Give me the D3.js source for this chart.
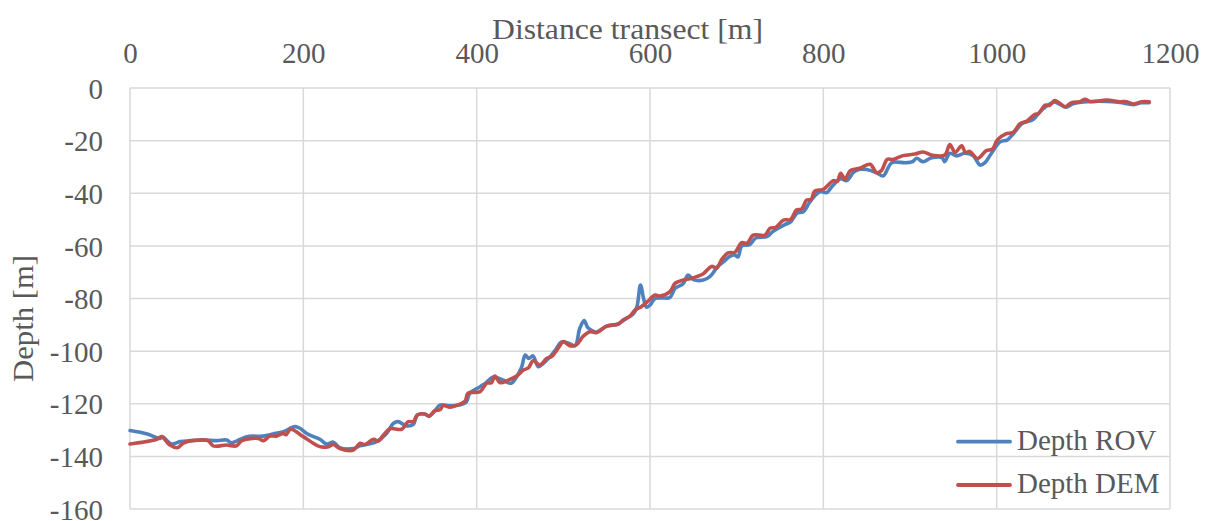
<!DOCTYPE html>
<html>
<head>
<meta charset="utf-8">
<script src="https://cdn.jsdelivr.net/npm/d3@7"></script>
<style>
  html, body { margin: 0; padding: 0; background: #ffffff; }
  svg { display: block; }
  text { font-family: "Liberation Serif", "Times New Roman", serif; fill: #595959; }
</style>
</head>
<body>
<svg id="chart" width="1214" height="521"></svg>
<script>
// Transect profile: distance along the transect [m] and depth [m]
const rovDist = [0, 20, 34.6, 37, 48, 57.7, 70, 84.6, 100, 111.5, 117, 134.6, 153.8, 165, 176.9, 190.4, 196, 203.8, 219, 227, 234.6, 242, 257.7, 265.4, 273, 284.6, 296, 303.8, 309.6, 319, 327, 331.5, 340, 345, 352, 357.7, 369, 380, 388, 392, 404, 411, 419, 430, 440, 446, 452, 456, 460, 465, 471, 477, 485, 491, 498, 506, 513.5, 519, 524, 528, 532, 538, 550, 563, 573, 581, 585, 589, 593, 596, 600, 606, 615, 623, 629, 638, 644, 650, 661.5, 669, 678.5, 685, 692, 698, 701.5, 706, 715, 722, 735, 742, 755, 762, 770, 777, 784, 790, 796, 804, 811, 820, 827, 835, 842, 850, 861.5, 869, 879, 895, 903, 907.7, 915, 925, 937, 940, 946, 954, 963, 973, 981, 986.5, 994, 1004, 1012, 1019, 1029, 1042, 1050, 1058, 1066, 1072, 1080, 1088, 1100, 1127, 1142, 1158, 1167, 1176];
const rovDepth = [-130.2, -131.5, -133.2, -132.5, -135.3, -134.4, -134, -133.8, -134, -133.8, -134.8, -132.5, -132.3, -131.5, -130.6, -128.7, -129.3, -131.3, -133.5, -135.3, -134.6, -136.7, -137, -136, -135.5, -134.4, -131.3, -127.5, -126.8, -128.4, -127.8, -124.3, -123.9, -124.7, -122.6, -120.5, -120.8, -120.5, -119.3, -116, -113.5, -112, -109.8, -111, -112.2, -109.8, -106, -101.5, -102.8, -101.8, -105.9, -104.6, -102, -99.5, -96.5, -97, -98, -91.3, -88.4, -91, -92, -92.8, -90.5, -89.7, -87.5, -85.7, -83, -74.9, -80.6, -83.3, -82.5, -80, -79.8, -79.6, -76.1, -74.5, -71.1, -72.8, -73, -71.7, -67.7, -66, -64, -63.5, -64.2, -60, -59.5, -57, -56.5, -54.5, -52, -51, -47.5, -47, -43.5, -41, -39.4, -39.7, -37, -34.5, -35.2, -32, -30.9, -31, -32.2, -33.4, -28.4, -28.4, -28, -26.7, -28, -26.5, -26.5, -28, -24.8, -25.8, -24.8, -25.8, -29.3, -28.4, -24.8, -20.4, -19.8, -17.5, -13.6, -12, -9, -6.8, -5.3, -6, -7.3, -6, -5.3, -5.1, -5.5, -6.3, -5.6, -5.6];

const demDist = [0, 31, 36.5, 46, 54.6, 61.5, 73, 90, 96, 111.5, 123, 129, 148, 154, 161.5, 169, 177, 180, 185.5, 200, 219, 229, 234.6, 242, 257.7, 265.4, 271, 281, 286.5, 292.3, 300, 313.5, 321, 327, 331.5, 340, 345, 352, 357.7, 361.5, 369, 375, 386.5, 390, 404, 411.5, 417, 421, 427, 436.5, 446, 454, 459.6, 465.4, 473, 481, 486.5, 494, 500, 507.7, 515, 523, 530.8, 538, 550, 563.5, 569, 577, 582.7, 590, 597, 605.8, 611.5, 623, 629, 638.5, 646, 654, 661.5, 671, 677, 682.7, 690, 698, 705.8, 712, 719, 732.7, 738.5, 745, 754, 762, 769, 775, 780.8, 786, 790, 800, 811.5, 816, 820, 825, 831, 842, 854, 861.5, 867, 873.8, 880, 892, 905.8, 915, 925, 940, 946, 952, 959.6, 964, 969, 978, 988, 995, 1001, 1010, 1019, 1027, 1035, 1044, 1048, 1056, 1061, 1067, 1072, 1079, 1086.5, 1096, 1102, 1108, 1127, 1142, 1150, 1158, 1167, 1176];
const demDepth = [-135.3, -133.5, -132.5, -135.7, -136.7, -135, -134, -134, -136, -135.7, -136, -134, -133.2, -134, -132.3, -132.3, -131.3, -131.8, -129.7, -132.5, -136.3, -136.3, -135.5, -137, -137.6, -135, -135.5, -133.5, -134.2, -132, -129.5, -129.7, -126.8, -126.8, -124.3, -123.9, -124.7, -122.6, -122.3, -120.7, -121.3, -120.8, -119, -116, -115.4, -112.2, -112, -109.5, -112, -111, -109.5, -107.2, -106.4, -103.6, -105.3, -102.7, -102.1, -98.9, -96.4, -98, -97.6, -94.3, -92.6, -93, -90.5, -89.7, -88.2, -86.7, -84.4, -83.1, -81.2, -78.7, -79.1, -77.4, -74.2, -73, -72.5, -71.7, -70.6, -67.8, -68.4, -65.2, -62.7, -62.4, -58.8, -59, -55.9, -55.9, -53.3, -53, -50.2, -50, -46.4, -46, -42.6, -42.3, -39.2, -38.5, -35.2, -35.5, -32.4, -34.7, -31.4, -30.5, -29, -32.2, -31.4, -27.1, -27.2, -25.7, -25.1, -24.3, -25.5, -25.5, -21.5, -24.5, -22, -24.5, -24.1, -26.8, -23.8, -23.3, -19.6, -17.5, -16.8, -13.6, -12.6, -10, -9.8, -6.5, -6.6, -4.8, -5.6, -7.1, -5.6, -5.2, -4.3, -5.2, -4.6, -5.2, -5.2, -6.1, -5.2, -5.2];

const xTicks = [0, 200, 400, 600, 800, 1000, 1200];
const yTicks = [0, -20, -40, -60, -80, -100, -120, -140, -160];
const seriesNames = ["Depth ROV", "Depth DEM"];
const seriesColors = ["#4f81bd", "#c0504d"];

const svg = d3.select("#chart");
const plot = { left: 130, right: 1170, top: 88, bottom: 509 };
const fontFamily = '"Liberation Serif", "Times New Roman", serif';

const x = d3.scaleLinear().domain([0, 1200]).range([plot.left, plot.right]);
const y = d3.scaleLinear().domain([-160, 0]).range([plot.bottom, plot.top]);

// Gridlines
const grid = svg.append("g").attr("class", "grid");
grid.selectAll("line.v").data(xTicks).join("line")
  .attr("x1", d => x(d)).attr("x2", d => x(d))
  .attr("y1", plot.top).attr("y2", plot.bottom)
  .attr("stroke", "#d9d9d9").attr("stroke-width", 1.5);
grid.selectAll("line.h").data(yTicks).join("line")
  .attr("x1", plot.left).attr("x2", plot.right)
  .attr("y1", d => y(d)).attr("y2", d => y(d))
  .attr("stroke", "#d9d9d9").attr("stroke-width", 1.5);

// Axes (labels only)
const xAxis = svg.append("g")
  .attr("transform", `translate(0,${plot.top})`)
  .call(d3.axisTop(x).tickValues(xTicks).tickSize(0).tickPadding(25).tickFormat(d3.format("d")));
xAxis.select(".domain").remove();
xAxis.selectAll("text").attr("font-size", 29).attr("fill", "#595959")
  .style("font-family", fontFamily);

const yAxis = svg.append("g")
  .attr("transform", `translate(${plot.left},0)`)
  .call(d3.axisLeft(y).tickValues(yTicks).tickSize(0).tickPadding(27).tickFormat(d => d3.format("d")(d).replace("−", "-")));
yAxis.select(".domain").remove();
yAxis.selectAll("text").attr("font-size", 29).attr("fill", "#595959").attr("dy", "0.35em")
  .style("font-family", fontFamily);

// Axis titles
svg.append("text")
  .attr("x", 492).attr("y", 39)
  .attr("font-size", 30)
  .attr("textLength", 271).attr("lengthAdjust", "spacingAndGlyphs")
  .text("Distance transect [m]");

svg.append("text")
  .attr("transform", "translate(33,382) rotate(-90)")
  .attr("font-size", 30)
  .attr("textLength", 127).attr("lengthAdjust", "spacingAndGlyphs")
  .text("Depth [m]");

// Profiles
const line = d3.line()
  .x(d => x(d[0]))
  .y(d => y(d[1]))
  .curve(d3.curveCatmullRom.alpha(0.5));

const rovPoints = d3.zip(rovDist, rovDepth);
const demPoints = d3.zip(demDist, demDepth);

svg.append("path").datum(rovPoints)
  .attr("d", line).attr("fill", "none")
  .attr("stroke", seriesColors[0]).attr("stroke-width", 3.6)
  .attr("stroke-linejoin", "round").attr("stroke-linecap", "round");

svg.append("path").datum(demPoints)
  .attr("d", line).attr("fill", "none")
  .attr("stroke", seriesColors[1]).attr("stroke-width", 3.6)
  .attr("stroke-linejoin", "round").attr("stroke-linecap", "round");

// Legend
const legend = svg.append("g");
const legendY = [441.7, 485];
seriesNames.forEach((name, i) => {
  legend.append("line")
    .attr("x1", 958).attr("x2", 1010)
    .attr("y1", legendY[i]).attr("y2", legendY[i])
    .attr("stroke", seriesColors[i]).attr("stroke-width", 3.8)
    .attr("stroke-linecap", "round");
  legend.append("text")
    .attr("x", 1017).attr("y", legendY[i] + 8)
    .attr("font-size", 29)
    .text(name);
});
</script>
</body>
</html>
